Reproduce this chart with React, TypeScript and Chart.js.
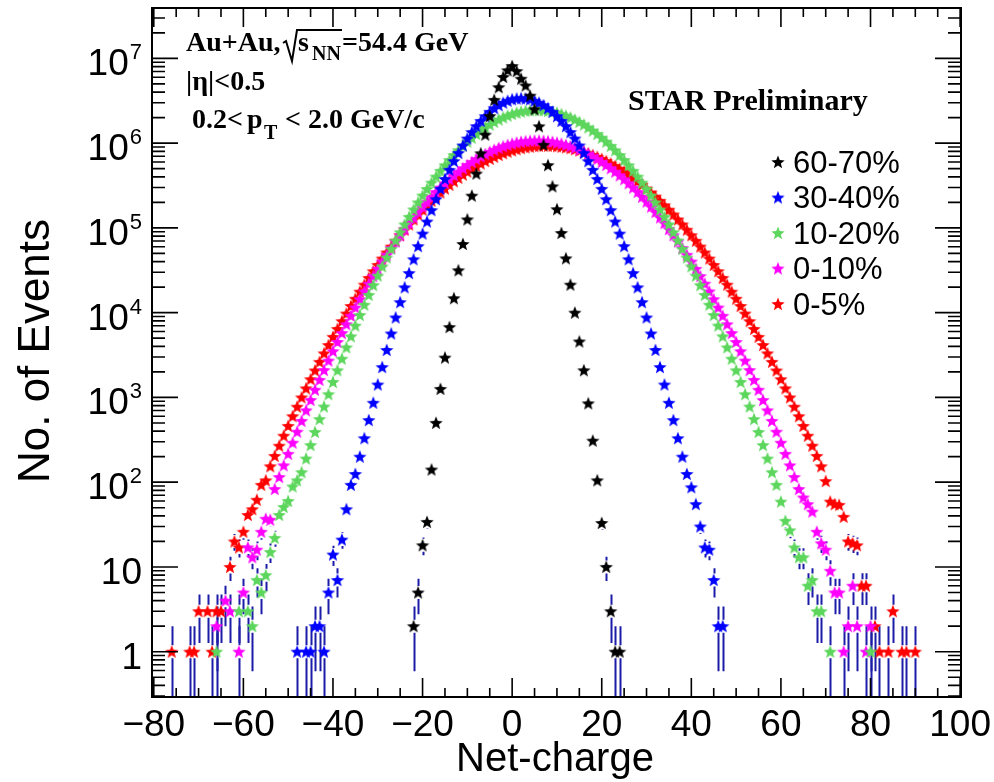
import React, { useEffect, useRef } from 'react';
import { Chart, registerables } from 'chart.js';

Chart.register(...registerables);

// ---------- data (net-charge bins, counts) ----------
const seriesLabels = ['60-70%', '30-40%', '10-20%', '0-10%', '0-5%'];
const seriesColors = ['#000000', '#0000ff', '#5cd65c', '#ff00ff', '#ff0000'];

const startBlack = -22;
const yBlack = [
  2, 5, 18, 34, 141, 501, 1260, 2950, 6760, 14800, 31600, 64600, 126000, 240000, 437000,
  759000, 1260000, 2090000, 3240000, 4570000, 6030000, 7240000, 8130000, 7080000, 5750000,
  4790000, 3630000, 2510000, 1580000, 955000, 550000, 309000, 166000, 87100, 43700, 21400,
  10000, 4570, 2090, 851, 309, 105, 33, 10, 3, 1, 1,
];

const startBlue = -48;
const yBlue = [
  1, null, 1, 1, 2, 2, 1, 5, 14, 7, 21, 48, 93, 125, 200, 330, 540, 864, 1420, 2280, 3630,
  5680, 8770, 13300, 19900, 29300, 42600, 60900, 85700, 118800, 162000, 218000, 289000,
  377000, 484000, 613000, 764000, 938000, 1134000, 1351000, 1585000, 1830000, 2080000,
  2340000, 2580000, 2800000, 3000000, 3160000, 3290000, 3360000, 3390000, 3360000, 3290000,
  3160000, 3000000, 2800000, 2580000, 2340000, 2080000, 1830000, 1585000, 1351000, 1134000,
  938000, 764000, 613000, 484000, 377000, 289000, 218000, 162000, 118800, 85700, 60900,
  42600, 29300, 19900, 13300, 8770, 5680, 3630, 2280, 1420, 864, 540, 330, 200, 125, 87, 55,
  30, 17, 16, 7, 2, 2,
];

const startGreen = -66;
const yGreen = [
  1, null, null, null, null, 3, null, 3, 2, 7, 5, 8, 15, 22, 41, 51, 60, 89, 105, 131, 190,
  274, 391, 555, 781, 1090, 1520, 2090, 2860, 3890, 5250, 7040, 9370, 12400, 16200, 21100,
  27300, 35100, 44700, 56600, 71100, 88700, 110000, 135000, 165000, 200000, 241000, 288000,
  342000, 403000, 472000, 548000, 632000, 724000, 823000, 929000, 1041000, 1159000, 1281000,
  1406000, 1531000, 1656000, 1779000, 1897000, 2008000, 2111000, 2203000, 2284000, 2350000,
  2401000, 2436000, 2453000, 2453000, 2436000, 2401000, 2350000, 2284000, 2203000, 2111000,
  2008000, 1897000, 1779000, 1656000, 1531000, 1406000, 1281000, 1159000, 1041000, 929000,
  823000, 724000, 632000, 548000, 472000, 403000, 342000, 288000, 241000, 200000, 165000,
  135000, 110000, 88700, 71100, 56600, 44700, 35100, 27300, 21100, 16200, 12400, 9370, 7040,
  5250, 3890, 2860, 2090, 1520, 1090, 781, 555, 391, 274, 190, 131, 93, 59, 35, 27, 17, 13,
  13, 6, 7, 3, 3, null, 1, null, null, null, null, null, null, null, null, 1,
];

const startMagenta = -66;
const yMagenta = [
  2, null, 4, 3, null, 1, 5, 17, 13, 16, 26, 37, 36, 83, 115, 158, 216, 292, 394, 528, 704,
  932, 1230, 1610, 2100, 2720, 3510, 4510, 5740, 7290, 9190, 11500, 14400, 17800, 22000,
  27000, 32900, 40000, 48200, 57900, 69100, 82000, 96800, 114000, 133000, 154000, 178000,
  204000, 233000, 265000, 299000, 336000, 375000, 416000, 460000, 505000, 552000, 599000,
  648000, 696000, 743000, 790000, 835000, 878000, 917000, 953000, 986000, 1013000, 1036000,
  1053000, 1064000, 1070000, 1070000, 1064000, 1053000, 1036000, 1013000, 986000, 953000,
  917000, 878000, 835000, 790000, 743000, 696000, 648000, 599000, 552000, 505000, 460000,
  416000, 375000, 336000, 299000, 265000, 233000, 204000, 178000, 154000, 133000, 114000,
  96800, 82000, 69100, 57900, 48200, 40000, 32900, 27000, 22000, 17800, 14400, 11500, 9190,
  7290, 5740, 4510, 3510, 2720, 2100, 1610, 1230, 932, 704, 528, 394, 292, 216, 158, 115, 83,
  66, 55, 45, 26, 19, 16, 9, 5, 5, 1, 2, 6, 2, null, 1, 2,
];

const startRed = -76;
const yRed = [
  1, null, null, null, 1, 1, 3, null, 3, 1, 3, 3, null, 10, 20, 17, 26, 41, 48, 62, 93, 105,
  154, 204, 269, 353, 461, 600, 776, 1000, 1280, 1640, 2080, 2630, 3310, 4150, 5180, 6430,
  7940, 9770, 12000, 14600, 17700, 21400, 25700, 30800, 36600, 43500, 51300, 60300, 70500,
  82000, 95100, 110000, 126000, 144000, 164000, 185000, 209000, 234000, 262000, 291000,
  322000, 355000, 389000, 425000, 461000, 499000, 537000, 575000, 614000, 652000, 689000,
  724000, 759000, 791000, 820000, 847000, 871000, 891000, 908000, 920000, 929000, 933000,
  933000, 929000, 920000, 908000, 891000, 871000, 847000, 820000, 791000, 759000, 724000,
  689000, 652000, 614000, 575000, 537000, 499000, 461000, 425000, 389000, 355000, 322000,
  291000, 262000, 234000, 209000, 185000, 164000, 144000, 126000, 110000, 95100, 82000,
  70500, 60300, 51300, 43500, 36600, 30800, 25700, 21400, 17700, 14600, 12000, 9770, 7940,
  6430, 5180, 4150, 3310, 2630, 2080, 1640, 1280, 1000, 776, 600, 461, 353, 269, 204, 154,
  103, 59, 55, 54, 39, 20, 19, 18, 6, 6, null, 2, 1, null, 1, 3, null, 1, 1, null, 1,
];

const xTickLabels = [-80, -60, -40, -20, 0, 20, 40, 60, 80, 100];
const yDecades = [0, 1, 2, 3, 4, 5, 6, 7];

// ---------- helpers ----------
const SANS = '"Liberation Sans", Arial, Helvetica, sans-serif';
const SERIF = '"Liberation Serif", "Times New Roman", serif';
const ERR_COLOR = '#1c1ca8';
const STAR_R = 7;

function toPoints(start: number, arr: (number | null)[]) {
  const out: { x: number; y: number }[] = [];
  arr.forEach((v, i) => {
    if (v !== null && v !== undefined) out.push({ x: start + i, y: v });
  });
  return out;
}

function makeStar(color: string, R: number) {
  const s = Math.ceil(R * 2) + 2;
  const c = document.createElement('canvas');
  c.width = s;
  c.height = s;
  const g = c.getContext('2d')!;
  g.fillStyle = color;
  g.beginPath();
  const cx = s / 2;
  const cy = s / 2 + R * 0.08;
  for (let k = 0; k < 10; k++) {
    const r = k % 2 === 0 ? R : R * 0.43;
    const a = -Math.PI / 2 + (k * Math.PI) / 5;
    const px = cx + r * Math.cos(a);
    const py = cy + r * Math.sin(a);
    if (k === 0) g.moveTo(px, py);
    else g.lineTo(px, py);
  }
  g.closePath();
  g.fill();
  return c;
}

const errorBarsPlugin = {
  id: 'errorBars',
  beforeDatasetsDraw(chart: any) {
    const { ctx, chartArea: a, scales } = chart;
    const x = scales.x;
    const y = scales.y;
    ctx.save();
    ctx.beginPath();
    ctx.rect(a.left, a.top, a.right - a.left, a.bottom - a.top);
    ctx.clip();
    ctx.strokeStyle = ERR_COLOR;
    ctx.lineWidth = 2;
    const gap = 6.5;
    for (let d = chart.data.datasets.length - 1; d >= 0; d--) {
      const ds = chart.data.datasets[d];
      ds.data.forEach((p: any) => {
        const px = Math.round(x.getPixelForValue(p.x)) + 0.5;
        const py = y.getPixelForValue(p.y);
        const e = Math.sqrt(p.y);
        const top = y.getPixelForValue(p.y + e);
        const bot = p.y - e > 0 ? y.getPixelForValue(p.y - e) : a.bottom;
        ctx.beginPath();
        if (py - gap > top) {
          ctx.moveTo(px, top);
          ctx.lineTo(px, py - gap);
        }
        if (bot > py + gap) {
          ctx.moveTo(px, py + gap);
          ctx.lineTo(px, bot);
        }
        ctx.stroke();
      });
    }
    ctx.restore();
  },
};

const decorPlugin = {
  id: 'decor',
  afterDraw(chart: any) {
    const { ctx, chartArea: a, scales } = chart;
    const x = scales.x;
    const y = scales.y;
    ctx.save();
    ctx.strokeStyle = '#000';
    ctx.fillStyle = '#000';

    // ticks (inward, mirrored)
    ctx.lineWidth = 1.6;
    ctx.beginPath();
    for (let v = -80; v <= 100; v += 5) {
      const px = x.getPixelForValue(v);
      if (px < a.left - 0.5 || px > a.right + 0.5) continue;
      const len = v % 20 === 0 ? 19 : 9;
      ctx.moveTo(px, a.bottom);
      ctx.lineTo(px, a.bottom - len);
      ctx.moveTo(px, a.top);
      ctx.lineTo(px, a.top + len);
    }
    for (let k = -1; k <= 7; k++) {
      for (let m = 1; m <= 9; m++) {
        const val = m * Math.pow(10, k);
        if (val < y.min || val > y.max) continue;
        const py = y.getPixelForValue(val);
        const len = m === 1 ? 26 : 13;
        ctx.moveTo(a.left, py);
        ctx.lineTo(a.left + len, py);
        ctx.moveTo(a.right, py);
        ctx.lineTo(a.right - len, py);
      }
    }
    ctx.stroke();

    // frame
    ctx.lineWidth = 2;
    ctx.strokeRect(a.left, a.top, a.right - a.left, a.bottom - a.top);

    // x tick labels
    ctx.font = `37px ${SANS}`;
    ctx.textAlign = 'center';
    ctx.textBaseline = 'alphabetic';
    xTickLabels.forEach((v) => {
      const px = x.getPixelForValue(v);
      const txt = v < 0 ? '\u2212' + Math.abs(v) : String(v);
      ctx.fillText(txt, px, 736);
    });

    // y tick labels
    yDecades.forEach((k) => {
      const py = y.getPixelForValue(Math.pow(10, k));
      ctx.textAlign = 'right';
      if (k === 0 || k === 1) {
        ctx.font = `37px ${SANS}`;
        ctx.fillText(k === 0 ? '1' : '10', 142, py + 17);
      } else {
        ctx.font = `22px ${SANS}`;
        const sw = ctx.measureText(String(k)).width;
        ctx.fillText(String(k), 142, py + 1);
        ctx.font = `37px ${SANS}`;
        ctx.fillText('10', 142 - sw - 1, py + 17);
      }
    });

    // axis titles
    ctx.font = `40px ${SANS}`;
    ctx.textAlign = 'center';
    ctx.fillText('Net-charge', 555, 771);
    ctx.save();
    ctx.translate(49, 351);
    ctx.rotate(-Math.PI / 2);
    ctx.font = `44px ${SANS}`;
    ctx.fillText('No. of Events', 0, 0);
    ctx.restore();

    // annotations
    ctx.textAlign = 'left';
    ctx.font = `bold 28px ${SERIF}`;
    ctx.fillText('Au+Au,', 186, 51);
    ctx.lineWidth = 2;
    ctx.beginPath();
    ctx.moveTo(283, 43);
    ctx.lineTo(286, 41);
    ctx.lineTo(292, 61);
    ctx.lineTo(297, 30);
    ctx.lineTo(342, 30);
    ctx.stroke();
    ctx.fillText('s', 298, 51);
    ctx.font = `bold 20px ${SERIF}`;
    ctx.fillText('NN', 312, 60);
    ctx.font = `bold 28px ${SERIF}`;
    ctx.fillText('=54.4 GeV', 342, 51);
    ctx.fillText('|\u03b7|<0.5', 186, 90);
    ctx.fillText('0.2<', 192, 128);
    ctx.fillText('p', 247, 128);
    ctx.font = `bold 20px ${SERIF}`;
    ctx.fillText('T', 264, 139);
    ctx.font = `bold 28px ${SERIF}`;
    ctx.fillText('< 2.0 GeV/c', 285, 128);
    ctx.font = `bold 30px ${SERIF}`;
    ctx.fillText('STAR Preliminary', 628, 110);

    // legend
    ctx.font = `31px ${SANS}`;
    ctx.textBaseline = 'middle';
    chart.data.datasets.forEach((ds: any, i: number) => {
      const cy = 162 + i * 35.5;
      const img = ds.pointStyle as HTMLCanvasElement;
      ctx.drawImage(img, 778 - img.width / 2, cy - img.height / 2);
      ctx.fillStyle = '#000';
      ctx.fillText(ds.label, 793, cy + 2);
    });

    ctx.restore();
  },
};

export default function App() {
  const ref = useRef<HTMLCanvasElement | null>(null);

  useEffect(() => {
    if (!ref.current) return;
    const starts = [startBlack, startBlue, startGreen, startMagenta, startRed];
    const values = [yBlack, yBlue, yGreen, yMagenta, yRed];
    const datasets = seriesLabels.map((label, i) => ({
      label,
      data: toPoints(starts[i], values[i] as (number | null)[]),
      pointStyle: makeStar(seriesColors[i], STAR_R),
      pointRadius: 6,
      pointHoverRadius: 6,
      backgroundColor: seriesColors[i],
      borderColor: seriesColors[i],
      showLine: false,
    }));
    const chart = new Chart(ref.current, {
      type: 'scatter',
      data: { datasets },
      options: {
        animation: false,
        responsive: false,
        devicePixelRatio: 1,
        layout: { padding: { left: 152, right: 33, top: 8, bottom: 85 } },
        plugins: {
          legend: { display: false },
          tooltip: { enabled: false },
        },
        events: [],
        scales: {
          x: { type: 'linear', min: -80.4, max: 100.2, display: false },
          y: { type: 'logarithmic', min: 0.292, max: 3.93e7, display: false },
        },
      },
      plugins: [errorBarsPlugin, decorPlugin],
    } as any);
    return () => chart.destroy();
  }, []);

  return (
    <div style={{ position: 'fixed', left: 0, top: 0, width: 994, height: 782, background: '#fff' }}>
      <canvas ref={ref} width={994} height={782} style={{ width: 994, height: 782 }} />
    </div>
  );
}
